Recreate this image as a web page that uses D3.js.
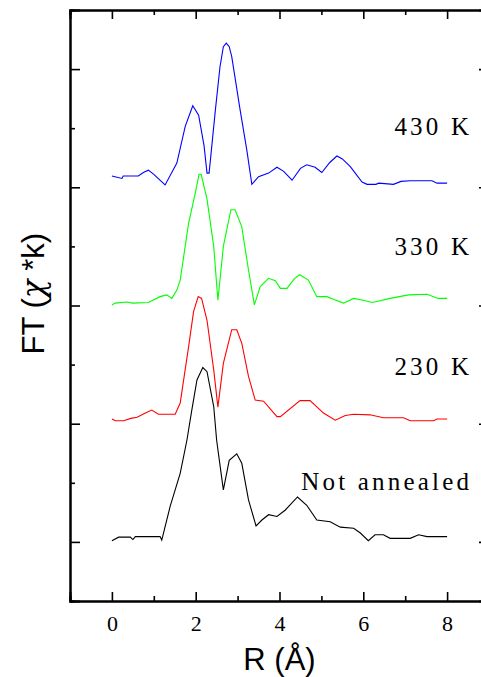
<!DOCTYPE html>
<html>
<head>
<meta charset="utf-8">
<script src="https://cdn.jsdelivr.net/npm/d3@7"></script>
<style>
  html, body { margin: 0; padding: 0; background: #fff; }
  svg { display: block; }
</style>
</head>
<body>
<div id="chart"></div>
<script>
// spectra (R in Angstrom, FT incl. vertical offset)
const blueR  = [0, 0.24, 0.27, 0.63, 0.75, 0.87, 1.0, 1.27, 1.55, 1.75, 1.93, 2.07, 2.2, 2.27, 2.32, 2.47, 2.58, 2.66, 2.73, 2.8, 2.86, 3.06, 3.22, 3.34, 3.5, 3.74, 3.94, 4.1, 4.3, 4.5, 4.65, 4.85, 5.01, 5.2, 5.37, 5.5, 5.69, 5.97, 6.09, 6.3, 6.37, 6.72, 6.9, 7.12, 7.64, 7.76, 8.0];
const blueFT = [7.19, 7.15, 7.19, 7.19, 7.25, 7.29, 7.22, 7.04, 7.41, 8.03, 8.38, 8.22, 7.7, 7.24, 7.24, 8.31, 9.04, 9.38, 9.44, 9.38, 9.21, 8.31, 7.63, 7.05, 7.18, 7.24, 7.34, 7.27, 7.12, 7.32, 7.38, 7.34, 7.25, 7.42, 7.53, 7.48, 7.35, 7.09, 7.05, 7.05, 7.07, 7.05, 7.1, 7.11, 7.11, 7.07, 7.07];

const greenR  = [0, 0.08, 0.36, 0.5, 0.87, 1.15, 1.31, 1.43, 1.55, 1.63, 1.83, 1.99, 2.08, 2.13, 2.27, 2.43, 2.53, 2.66, 2.84, 2.94, 3.1, 3.26, 3.4, 3.54, 3.74, 3.9, 4.02, 4.18, 4.35, 4.48, 4.69, 4.89, 5.13, 5.3, 5.53, 5.77, 6.0, 6.21, 6.4, 6.64, 7.08, 7.52, 7.79, 8.0];
const greenFT = [5.01, 5.04, 5.06, 5.04, 5.05, 5.15, 5.18, 5.12, 5.26, 5.43, 6.39, 6.9, 7.22, 7.22, 6.8, 6.0, 5.09, 6.0, 6.62, 6.62, 6.33, 5.6, 5.01, 5.32, 5.46, 5.42, 5.29, 5.29, 5.45, 5.52, 5.43, 5.15, 5.15, 5.1, 5.04, 5.12, 5.09, 5.05, 5.08, 5.12, 5.18, 5.19, 5.12, 5.12];

const redR  = [0, 0.08, 0.28, 0.45, 0.6, 0.8, 0.95, 1.11, 1.51, 1.63, 1.83, 1.95, 2.06, 2.14, 2.27, 2.43, 2.53, 2.66, 2.86, 2.98, 3.1, 3.26, 3.42, 3.62, 3.94, 4.02, 4.49, 4.73, 5.05, 5.33, 5.57, 5.77, 6.16, 6.48, 6.96, 7.12, 7.68, 7.76, 8.0];
const redFT = [3.08, 3.05, 3.05, 3.09, 3.11, 3.18, 3.23, 3.16, 3.16, 3.35, 4.3, 4.9, 5.15, 5.12, 4.75, 3.91, 3.28, 4.02, 4.59, 4.59, 4.36, 3.8, 3.4, 3.38, 3.12, 3.12, 3.39, 3.39, 3.18, 3.06, 3.14, 3.16, 3.15, 3.1, 3.1, 3.05, 3.05, 3.08, 3.08];

const blackR  = [0, 0.16, 0.44, 0.5, 0.56, 1.15, 1.19, 1.39, 1.63, 1.79, 1.9, 2.03, 2.17, 2.27, 2.43, 2.5, 2.58, 2.66, 2.8, 2.98, 3.1, 3.26, 3.44, 3.58, 3.74, 3.94, 4.14, 4.43, 4.65, 4.89, 5.21, 5.45, 5.77, 5.93, 6.12, 6.28, 6.48, 6.64, 7.12, 7.32, 7.52, 8.0];
const blackFT = [1.02, 1.08, 1.08, 1.04, 1.09, 1.09, 1.03, 1.6, 2.16, 2.72, 3.2, 3.74, 3.95, 3.88, 3.29, 2.72, 2.3, 1.88, 2.38, 2.49, 2.33, 1.71, 1.27, 1.37, 1.46, 1.43, 1.54, 1.76, 1.62, 1.37, 1.34, 1.25, 1.23, 1.15, 1.02, 1.12, 1.12, 1.06, 1.06, 1.12, 1.09, 1.09];

const seriesNames  = ["Not annealed", "230 K", "330 K", "430 K"];
const seriesColors = ["#000000", "#ff0000", "#00ff00", "#0000ff"];
const seriesR  = [blackR, redR, greenR, blueR];
const seriesFT = [blackFT, redFT, greenFT, blueFT];
const labelY   = [1.88, 3.82, 5.85, 7.88];   // label baselines in data units

const xMajor = [0, 2, 4, 6, 8];
const xMinor = [-1, 1, 3, 5, 7, 9];
const yMajor = [1, 3, 5, 7, 9];
const yMinor = [2, 4, 6, 8];

const width = 481, height = 677;
const margin = {top: 10, left: 70, right: -8, bottom: 76};

const svg = d3.select("#chart").append("svg")
    .attr("width", width)
    .attr("height", height);

const x = d3.scaleLinear().domain([-1, 9]).range([margin.left, width - margin.right]);
const y = d3.scaleLinear().domain([0, 10]).range([height - margin.bottom, margin.top]);

// frame + ticks (inward)
function styleAxis(g) {
    g.select(".domain").attr("stroke", "#000").attr("stroke-width", 2);
    g.selectAll(".tick line").attr("stroke", "#000").attr("stroke-width", 1.6);
}

svg.append("g")
    .attr("transform", `translate(0,${y(0)})`)
    .call(d3.axisBottom(x).tickValues(xMajor).tickSize(-9).tickPadding(14).tickFormat(d3.format("d")))
    .call(styleAxis)
    .call(g => g.selectAll("text")
        .attr("font-family", "'Liberation Serif', 'Times New Roman', serif")
        .attr("font-size", 22)
        .attr("fill", "#000"));

svg.append("g")
    .attr("transform", `translate(0,${y(0)})`)
    .call(d3.axisBottom(x).tickValues(xMinor).tickSize(-5).tickFormat(""))
    .call(styleAxis);

svg.append("g")
    .attr("transform", `translate(0,${y(10)})`)
    .call(d3.axisTop(x).tickValues(xMajor).tickSize(-9).tickFormat(""))
    .call(styleAxis);

svg.append("g")
    .attr("transform", `translate(0,${y(10)})`)
    .call(d3.axisTop(x).tickValues(xMinor).tickSize(-5).tickFormat(""))
    .call(styleAxis);

svg.append("g")
    .attr("transform", `translate(${x(-1)},0)`)
    .call(d3.axisLeft(y).tickValues(yMajor).tickSize(-10).tickFormat(""))
    .call(styleAxis);

svg.append("g")
    .attr("transform", `translate(${x(-1)},0)`)
    .call(d3.axisLeft(y).tickValues(yMinor).tickSize(-5).tickFormat(""))
    .call(styleAxis);

svg.append("g")
    .attr("transform", `translate(${x(9)},0)`)
    .call(d3.axisRight(y).tickValues(yMajor).tickSize(-10).tickFormat(""))
    .call(styleAxis);

svg.append("g")
    .attr("transform", `translate(${x(9)},0)`)
    .call(d3.axisRight(y).tickValues(yMinor).tickSize(-5).tickFormat(""))
    .call(styleAxis);

// curves
const line = d3.line()
    .x(d => x(d[0]))
    .y(d => y(d[1]));

seriesNames.forEach((name, i) => {
    const pts = seriesR[i].map((r, j) => [r, seriesFT[i][j]]);
    svg.append("path")
        .datum(pts)
        .attr("fill", "none")
        .attr("stroke", seriesColors[i])
        .attr("stroke-width", 1.1)
        .attr("d", line);

    svg.append("text")
        .attr("x", x(8.6))
        .attr("y", y(labelY[i]))
        .attr("text-anchor", "end")
        .attr("font-family", "'Liberation Serif', 'Times New Roman', serif")
        .attr("font-size", 25)
        .attr("letter-spacing", "3.2px")
        .attr("fill", "#000")
        .text(name);
});

// axis titles
svg.append("text")
    .attr("x", x(4))
    .attr("y", 670)
    .attr("text-anchor", "middle")
    .attr("font-family", "'Liberation Sans', Arial, sans-serif")
    .attr("font-size", 31)
    .text("R (Å)");

const yTitle = svg.append("text")
    .attr("transform", `translate(44,${y(5.2)}) rotate(-90)`)
    .attr("text-anchor", "middle")
    .attr("font-family", "'Liberation Sans', Arial, sans-serif")
    .attr("font-size", 31);
yTitle.append("tspan").text("FT (");
yTitle.append("tspan")
    .attr("font-family", "'DejaVu Serif', 'Liberation Serif', serif")
    .attr("font-style", "italic")
    .text("χ");
yTitle.append("tspan").text(" *k)");
</script>
</body>
</html>
